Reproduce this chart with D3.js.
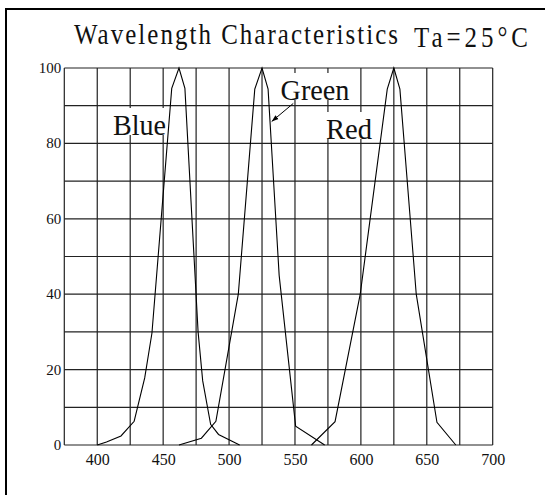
<!DOCTYPE html>
<html>
<head>
<meta charset="utf-8">
<script src="https://cdn.jsdelivr.net/npm/d3@7/dist/d3.min.js"></script>
<style>
  body { margin: 0; background: #fff; }
  text { font-family: "Liberation Serif", "DejaVu Serif", serif; fill: #111; }
</style>
</head>
<body>
<svg id="chart" width="545" height="495"></svg>
<script>
// curves (wavelength nm, relative intensity %)
var blueWl  = [400, 407, 418, 428, 436, 441.5, 456.5, 462, 466.5, 476.5, 480, 486, 492, 508];
var blueVal = [0, 0.8, 2.4, 6.3, 17.8, 29.7, 94.6, 100, 94.6, 30, 17, 5.5, 2.8, 0];

var greenWl  = [462, 479, 490, 507, 519.5, 525, 529.6, 538, 550.5, 572.5];
var greenVal = [0, 1.8, 6.3, 40, 94.4, 100, 94.4, 45, 5, 0];

var redWl  = [562.5, 580.4, 599.5, 620, 625, 629.6, 642, 657.7, 672];
var redVal = [0, 6.2, 40, 94.4, 100, 94.4, 40, 6, 0];

var xTicks = [400, 450, 500, 550, 600, 650, 700];
var yTicks = [0, 20, 40, 60, 80, 100];
var xGridLines = [375, 400, 425, 450, 475, 500, 525, 550, 575, 600, 625, 650, 675, 700];
var yGridLines = [0, 10, 20, 30, 40, 50, 60, 70, 80, 90, 100];

var svg = d3.select('#chart');

// outer frame (only top and left are visible in the reference)
svg.append('path')
    .attr('d', 'M6,495V9H545')
    .attr('fill', 'none')
    .attr('stroke', '#000')
    .attr('stroke-width', 2);

var margin = { top: 68, left: 64.3, right: 492.7, bottom: 445 };

var xScale = d3.scaleLinear().domain([375, 700]).range([margin.left, margin.right]);
var yScale = d3.scaleLinear().domain([0, 100]).range([margin.bottom, margin.top]);

// grid
var grid = svg.append('g').attr('class', 'grid');
grid.selectAll('.vline')
    .data(xGridLines)
    .enter().append('line')
    .attr('class', 'vline')
    .attr('x1', function(d) { return xScale(d); })
    .attr('x2', function(d) { return xScale(d); })
    .attr('y1', margin.top)
    .attr('y2', margin.bottom)
    .attr('stroke', '#222')
    .attr('stroke-width', 1.2);

grid.selectAll('.hline')
    .data(yGridLines)
    .enter().append('line')
    .attr('class', 'hline')
    .attr('x1', margin.left)
    .attr('x2', margin.right)
    .attr('y1', function(d) { return yScale(d); })
    .attr('y2', function(d) { return yScale(d); })
    .attr('stroke', '#222')
    .attr('stroke-width', 1.2);

// axis labels
var xAxis = d3.axisBottom(xScale).tickValues(xTicks).tickSize(0).tickPadding(0);
var gx = svg.append('g')
    .attr('transform', 'translate(0,' + margin.bottom + ')')
    .call(xAxis);
gx.attr('font-family', null);
gx.select('.domain').remove();
gx.selectAll('text')
    .attr('y', 20)
    .attr('dy', 0)
    .style('font-family', '"Liberation Serif", serif')
    .style('font-size', '16px')
    .attr('fill', '#333');

var yAxis = d3.axisLeft(yScale).tickValues(yTicks).tickSize(0).tickPadding(3);
var gy = svg.append('g')
    .attr('transform', 'translate(' + margin.left + ',0)')
    .call(yAxis);
gy.attr('font-family', null);
gy.select('.domain').remove();
gy.selectAll('text')
    .attr('dy', '0.3em')
    .style('font-family', '"Liberation Serif", serif')
    .style('font-size', '15px')
    .attr('fill', '#333');

// series labels with white background that hides the grid behind them
var labels = [
    { text: 'Blue',  x: 113, y: 135, w: 53 },
    { text: 'Green', x: 280.5, y: 100, w: 69 },
    { text: 'Red',   x: 326, y: 139, w: 46 }
];

labels.forEach(function(l) {
    svg.append('rect')
        .attr('x', l.x - 1)
        .attr('y', l.y - 27)
        .attr('width', l.w + 2)
        .attr('height', 27)
        .attr('fill', '#fff');
});

// curves
var line = d3.line()
    .x(function(d) { return xScale(d[0]); })
    .y(function(d) { return yScale(d[1]); });

[[blueWl, blueVal], [greenWl, greenVal], [redWl, redVal]].forEach(function(s) {
    var pts = d3.zip(s[0], s[1]);
    svg.append('path')
        .datum(pts)
        .attr('d', line)
        .attr('fill', 'none')
        .attr('stroke', '#000')
        .attr('stroke-width', 1.1);
});

labels.forEach(function(l) {
    svg.append('text')
        .attr('x', l.x)
        .attr('y', l.y)
        .attr('textLength', l.w)
        .attr('lengthAdjust', 'spacingAndGlyphs')
        .style('font-size', '30px')
        .text(l.text);
});

// arrow from "Green" to its curve
svg.append('defs').append('marker')
    .attr('id', 'arrow')
    .attr('viewBox', '0 0 10 10')
    .attr('refX', 10)
    .attr('refY', 5)
    .attr('markerWidth', 7)
    .attr('markerHeight', 7)
    .attr('orient', 'auto')
    .append('path')
    .attr('d', 'M0,1.5L10,5L0,8.5Z')
    .attr('fill', '#000');

svg.append('line')
    .attr('x1', xScale(548.7))
    .attr('y1', yScale(90.6))
    .attr('x2', xScale(532.3))
    .attr('y2', yScale(85.8))
    .attr('stroke', '#000')
    .attr('stroke-width', 1)
    .attr('marker-end', 'url(#arrow)');

// title: tall narrow glyphs with wide spacing, as in the reference
var sx = 0.86;
svg.append('text')
    .attr('transform', 'translate(74,44) scale(' + sx + ',1)')
    .attr('textLength', 324 / sx)
    .attr('lengthAdjust', 'spacing')
    .style('font-size', '29px')
    .text('Wavelength Characteristics');

svg.append('text')
    .attr('transform', 'translate(414,47) scale(' + sx + ',1)')
    .attr('textLength', 114 / sx)
    .attr('lengthAdjust', 'spacing')
    .style('font-size', '29px')
    .text('Ta=25°C');
</script>
</body>
</html>
